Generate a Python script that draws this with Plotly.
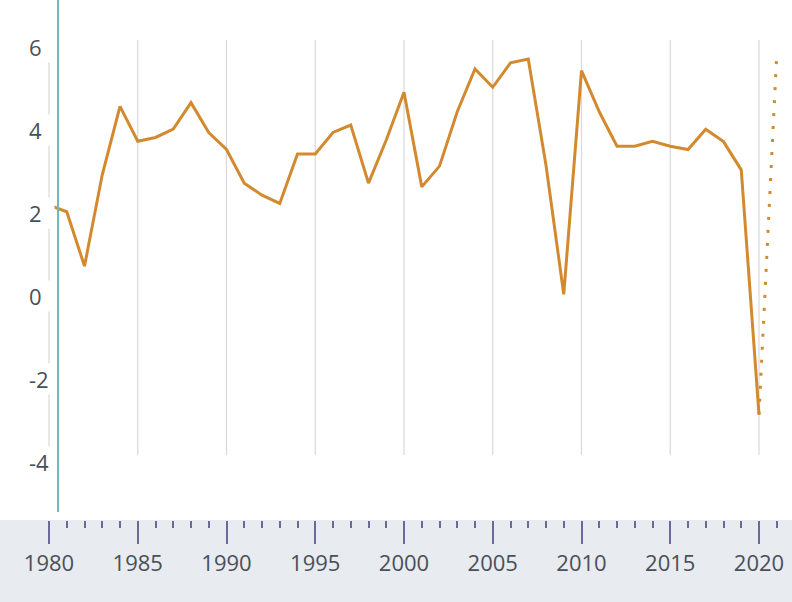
import plotly.graph_objects as go

# ---- data ----
years = list(range(1980, 2021))
growth = [2.19, 2.03, 0.72, 2.92, 4.57, 3.73, 3.82, 4.02, 4.66, 3.94,
          3.53, 2.72, 2.43, 2.23, 3.42, 3.42, 3.94, 4.12, 2.72, 3.76,
          4.91, 2.63, 3.13, 4.44, 5.47, 5.03, 5.62, 5.71, 3.15, 0.04,
          5.43, 4.44, 3.61, 3.61, 3.73, 3.61, 3.53, 4.02, 3.72, 3.04,
          -2.86]
proj_years = [2020, 2021]
proj_growth = [-2.86, 5.82]
x_ticks = [1980, 1985, 1990, 1995, 2000, 2005, 2010, 2015, 2020]
minor_ticks = list(range(1980, 2022))
y_ticks = [-4, -2, 0, 2, 4, 6]
y_labels = ["-4", "-2", "0", "2", "4", "6"]

W, H = 792, 602
LINE = "#d38a2f"
TXT = "#4a4f58"
TICKC = "#6b6b99"
FONT = "Open Sans"

fig = go.Figure()
fig.add_trace(go.Scatter(x=years, y=growth, mode="lines",
                         line=dict(color=LINE, width=3), hoverinfo="skip"))
fig.add_trace(go.Scatter(x=proj_years, y=proj_growth, mode="lines",
                         line=dict(color=LINE, width=3, dash="3px,10px"),
                         hoverinfo="skip"))

band_top = (H - 520) / H
shapes = []
# gray axis band
shapes.append(dict(type="rect", xref="paper", yref="paper", x0=0, x1=1,
                   y0=0, y1=band_top, fillcolor="#e8ebef", line_width=0,
                   layer="below"))
# white cover at left edge
shapes.append(dict(type="rect", xref="x", yref="paper", x0=1977.0, x1=1980.225,
                   y0=band_top, y1=1, fillcolor="white", line_width=0,
                   layer="above"))
# vertical gridlines
g0 = 1 - 455 / H
g1 = 1 - 40 / H
for i, t in enumerate(x_ticks):
    shapes.append(dict(type="line", xref="x", yref="paper", x0=t, x1=t,
                       y0=g0, y1=g1, line=dict(color="#d9d9d9", width=1.2),
                       layer="above" if i == 0 else "below"))
# teal marker line
shapes.append(dict(type="line", xref="paper", yref="paper", x0=58 / W, x1=58 / W,
                   y0=1 - 512 / H, y1=1, line=dict(color="#6cb8c4", width=2),
                   layer="above"))

annotations = []
for v, lab in zip(y_ticks, y_labels):
    annotations.append(dict(x=27 / W, xref="paper", y=v, yref="y",
                            xanchor="left", yanchor="middle", text=lab,
                            showarrow=False, bgcolor="white", width=24, height=28,
                            align="left", font=dict(family=FONT, size=22, color=TXT)))

px_per_year = 17.75
x0 = 1980 - 49 / px_per_year
x1 = 1980 + (W - 49) / px_per_year
px_per_unit = 41.5
ytop = 296 / px_per_unit
ybot = (296 - 520) / px_per_unit

fig.update_layout(
    width=W, height=H, autosize=False,
    margin=dict(l=0, r=0, t=0, b=0),
    paper_bgcolor="white", plot_bgcolor="rgba(0,0,0,0)",
    showlegend=False,
    shapes=shapes, annotations=annotations,
    xaxis=dict(range=[x0, x1], domain=[0, 1], showgrid=False, zeroline=False,
               showline=False, tickmode="array", tickvals=x_ticks,
               ticks="outside", ticklen=23, tickwidth=2, tickcolor=TICKC,
               ticklabelstandoff=1,
               tickfont=dict(family=FONT, size=22, color=TXT),
               minor=dict(tickmode="array", tickvals=minor_ticks, ticks="outside",
                          ticklen=7, tickwidth=2, tickcolor=TICKC, showgrid=False)),
    yaxis=dict(range=[ybot, ytop], domain=[band_top, 1], showgrid=False,
               zeroline=False, showline=False, showticklabels=False, ticks=""),
)

fig.write_html("out.html", config={"displayModeBar": False},
               post_script="document.body.style.margin='0';document.body.style.overflow='hidden';")
